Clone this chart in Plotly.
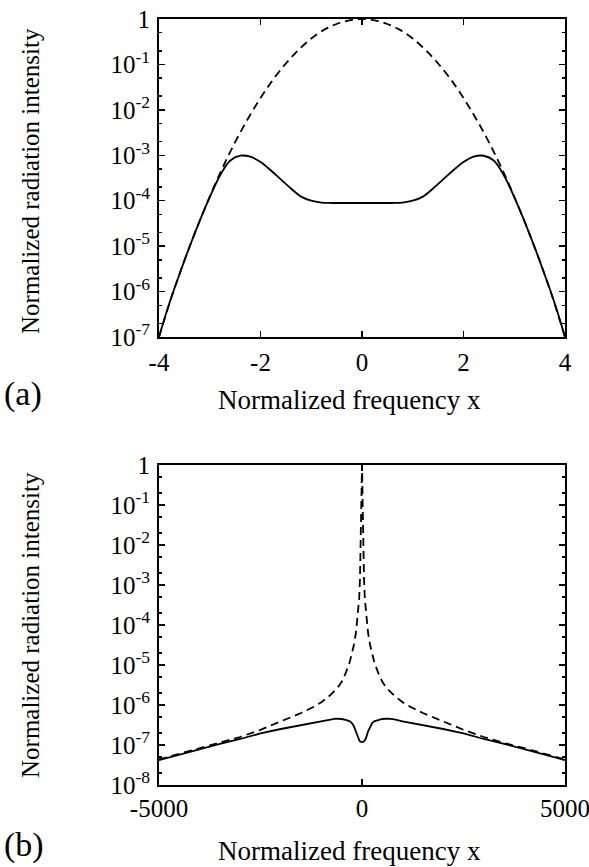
import numpy as np
import plotly.graph_objects as go

# ---------------- Panel (a) data (log10 of normalized intensity) ----------------
a_x_dash = [-4.0, -3.75, -3.5, -3.25, -3.0, -2.75, -2.5, -2.25, -2.0, -1.75, -1.5, -1.25, -1.0,
            -0.75, -0.5, -0.25, 0.0, 0.25, 0.5, 0.75, 1.0, 1.25, 1.5, 1.75, 2.0, 2.25, 2.5,
            2.75, 3.0, 3.25, 3.5, 3.75, 4.0]
a_dash_log = [-7.0, -6.11, -5.32, -4.59, -3.91, -3.28, -2.71, -2.20, -1.74, -1.33, -0.98, -0.68, -0.43,
              -0.24, -0.11, -0.03, 0.0, -0.03, -0.11, -0.24, -0.43, -0.68, -0.98, -1.33, -1.74, -2.20, -2.71,
              -3.28, -3.91, -4.59, -5.32, -6.11, -7.0]

a_x_solid = [-4.0, -3.8, -3.6, -3.4, -3.2, -3.0, -2.8, -2.6, -2.4, -2.2, -2.0, -1.8, -1.6, -1.4,
             -1.2, -1.0, -0.8, -0.6, -0.4, -0.2, 0.0, 0.2, 0.4, 0.6, 0.8, 1.0, 1.2, 1.4, 1.6, 1.8,
             2.0, 2.2, 2.4, 2.6, 2.8, 3.0, 3.2, 3.4, 3.6, 3.8, 4.0]
a_solid_log = [-7.0, -6.27, -5.63, -5.02, -4.45, -3.92, -3.45, -3.12, -3.01, -3.03, -3.15, -3.33, -3.53, -3.73,
               -3.91, -4.0, -4.04, -4.05, -4.05, -4.05, -4.05, -4.05, -4.05, -4.05, -4.04, -4.0, -3.91,
               -3.73, -3.53, -3.33, -3.15, -3.03, -3.01, -3.12, -3.45, -3.92, -4.45, -5.02, -5.63, -6.27, -7.0]

# ---------------- Panel (b) data ----------------
b_x_dash = [-5000, -4500, -4000, -3500, -3000, -2500, -2000, -1500, -1200, -1000, -800, -600, -500,
            -400, -300, -200, -150, -100, -70, -50, -35, -25, -15, -8, 0,
            8, 15, 25, 35, 50, 70, 100, 150, 200, 300, 400, 500, 600, 800, 1000, 1200, 1500,
            2000, 2500, 3000, 3500, 4000, 4500, 5000]
b_dash_log = [-7.36, -7.22, -7.08, -6.95, -6.8, -6.62, -6.42, -6.2, -6.05, -5.93, -5.77, -5.57, -5.42,
              -5.2, -4.92, -4.5, -4.2, -3.75, -3.35, -2.85, -2.2, -1.6, -0.9, -0.4, 0.0,
              -0.4, -0.9, -1.6, -2.2, -2.85, -3.35, -3.75, -4.2, -4.5, -4.92, -5.2, -5.42, -5.57, -5.77,
              -5.93, -6.05, -6.2, -6.42, -6.62, -6.8, -6.95, -7.08, -7.22, -7.36]

b_x_solid = [-5000, -4500, -4000, -3500, -3000, -2500, -2000, -1500, -1000, -800, -650, -500, -400,
             -300, -250, -200, -150, -100, -60, -30, 0, 30, 60, 100, 150, 200, 250, 300, 400, 500,
             650, 800, 1000, 1500, 2000, 2500, 3000, 3500, 4000, 4500, 5000]
b_solid_log = [-7.38, -7.24, -7.1, -6.97, -6.85, -6.71, -6.6, -6.5, -6.41, -6.36, -6.34, -6.35, -6.37,
               -6.41, -6.45, -6.53, -6.66, -6.82, -6.9, -6.92, -6.92, -6.92, -6.9, -6.82, -6.66, -6.53,
               -6.45, -6.41, -6.37, -6.35, -6.34, -6.36, -6.41, -6.5, -6.6, -6.71, -6.85, -6.97, -7.1,
               -7.24, -7.38]

a_xticks = [-4, -2, 0, 2, 4]
a_xticktext = ["-4", "-2", "0", "2", "4"]
a_yexp = [-7, -6, -5, -4, -3, -2, -1, 0]
b_xticks = [-5000, 0, 5000]
b_xticktext = ["-5000", "0", "5000"]
b_yexp = [-8, -7, -6, -5, -4, -3, -2, -1, 0]

x_title = "Normalized frequency x"
y_title = "Normalized radiation intensity"

W, H = 589, 867
FONT = "Liberation Serif, Times New Roman, serif"


def ylabels(exps):
    return ["1" if e == 0 else "10<sup>%d</sup>" % e for e in exps]


def minor_vals(exps):
    out = []
    for e in exps[:-1]:
        for m in (2, 5):
            out.append(m * 10.0 ** e)
    return out


def px(xp):
    return xp / W


def py(yp):
    return 1 - yp / H


fig = go.Figure()
dash_style = dict(color="black", width=1.8, dash="8px,5px")
solid_style = dict(color="black", width=1.8)

fig.add_trace(go.Scatter(x=a_x_dash, y=10 ** np.array(a_dash_log), mode="lines", line=dash_style,
                         line_shape="spline", xaxis="x", yaxis="y"))
fig.add_trace(go.Scatter(x=a_x_solid, y=10 ** np.array(a_solid_log), mode="lines", line=solid_style,
                         line_shape="spline", xaxis="x", yaxis="y"))
fig.add_trace(go.Scatter(x=b_x_dash, y=10 ** np.array(b_dash_log), mode="lines", line=dash_style,
                         xaxis="x2", yaxis="y2"))
fig.add_trace(go.Scatter(x=b_x_solid, y=10 ** np.array(b_solid_log), mode="lines", line=solid_style,
                         xaxis="x2", yaxis="y2"))

axis_common = dict(showline=True, linecolor="black", linewidth=2, mirror="ticks", ticks="inside",
                   ticklen=6, tickwidth=1.5, tickcolor="black", showgrid=False, zeroline=False,
                   automargin=False, ticklabeloverflow="allow",
                   tickfont=dict(family=FONT, size=25, color="black"))

xdom = [px(159), px(565)]
fig.update_layout(
    width=W, height=H, margin=dict(l=0, r=0, t=0, b=0, pad=0), template="none",
    paper_bgcolor="white", plot_bgcolor="white", showlegend=False,
    xaxis=dict(domain=xdom, range=[-4, 4], tickmode="array", tickvals=a_xticks, ticktext=a_xticktext,
               anchor="y", ticklabelstandoff=2, **axis_common),
    yaxis=dict(domain=[py(337), py(19)], type="log", range=[-7, 0], tickmode="array",
               tickvals=[10.0 ** e for e in a_yexp], ticktext=ylabels(a_yexp), anchor="x",
               ticklabelstandoff=2,
               minor=dict(ticks="inside", ticklen=3, tickcolor="black", tickvals=minor_vals(a_yexp)),
               **axis_common),
    xaxis2=dict(domain=xdom, range=[-5000, 5000], tickmode="array", tickvals=b_xticks, ticktext=b_xticktext,
                anchor="y2", ticklabelstandoff=0, **axis_common),
    yaxis2=dict(domain=[py(785), py(465)], type="log", range=[-8, 0], tickmode="array",
                tickvals=[10.0 ** e for e in b_yexp], ticktext=ylabels(b_yexp), anchor="x2",
                ticklabelstandoff=2,
                minor=dict(ticks="inside", ticklen=3, tickcolor="black", tickvals=minor_vals(b_yexp)),
                **axis_common),
)

ann_font = dict(family=FONT, size=27, color="black")
annotations = [
    dict(text=x_title, x=px(350), y=py(400), xref="paper", yref="paper", showarrow=False,
         font=ann_font, xanchor="center", yanchor="middle"),
    dict(text=x_title, x=px(350), y=py(851), xref="paper", yref="paper", showarrow=False,
         font=ann_font, xanchor="center", yanchor="middle"),
    dict(text=y_title, x=px(30), y=py(181), xref="paper", yref="paper", showarrow=False, textangle=-90,
         font=dict(family=FONT, size=25, color="black"), xanchor="center", yanchor="middle"),
    dict(text=y_title, x=px(30), y=py(625), xref="paper", yref="paper", showarrow=False, textangle=-90,
         font=dict(family=FONT, size=25, color="black"), xanchor="center", yanchor="middle"),
    dict(text="(a)", x=px(2), y=py(394), xref="paper", yref="paper", showarrow=False,
         font=dict(family=FONT, size=34, color="black"), xanchor="left", yanchor="middle"),
    dict(text="(b)", x=px(2), y=py(845), xref="paper", yref="paper", showarrow=False,
         font=dict(family=FONT, size=34, color="black"), xanchor="left", yanchor="middle"),
]
fig.update_layout(annotations=annotations)

fig.write_html("out.html", config={"displayModeBar": False, "staticPlot": True},
               post_script="document.body.style.margin='0';document.body.style.padding='0';"
                           "document.documentElement.style.overflow='hidden';")
